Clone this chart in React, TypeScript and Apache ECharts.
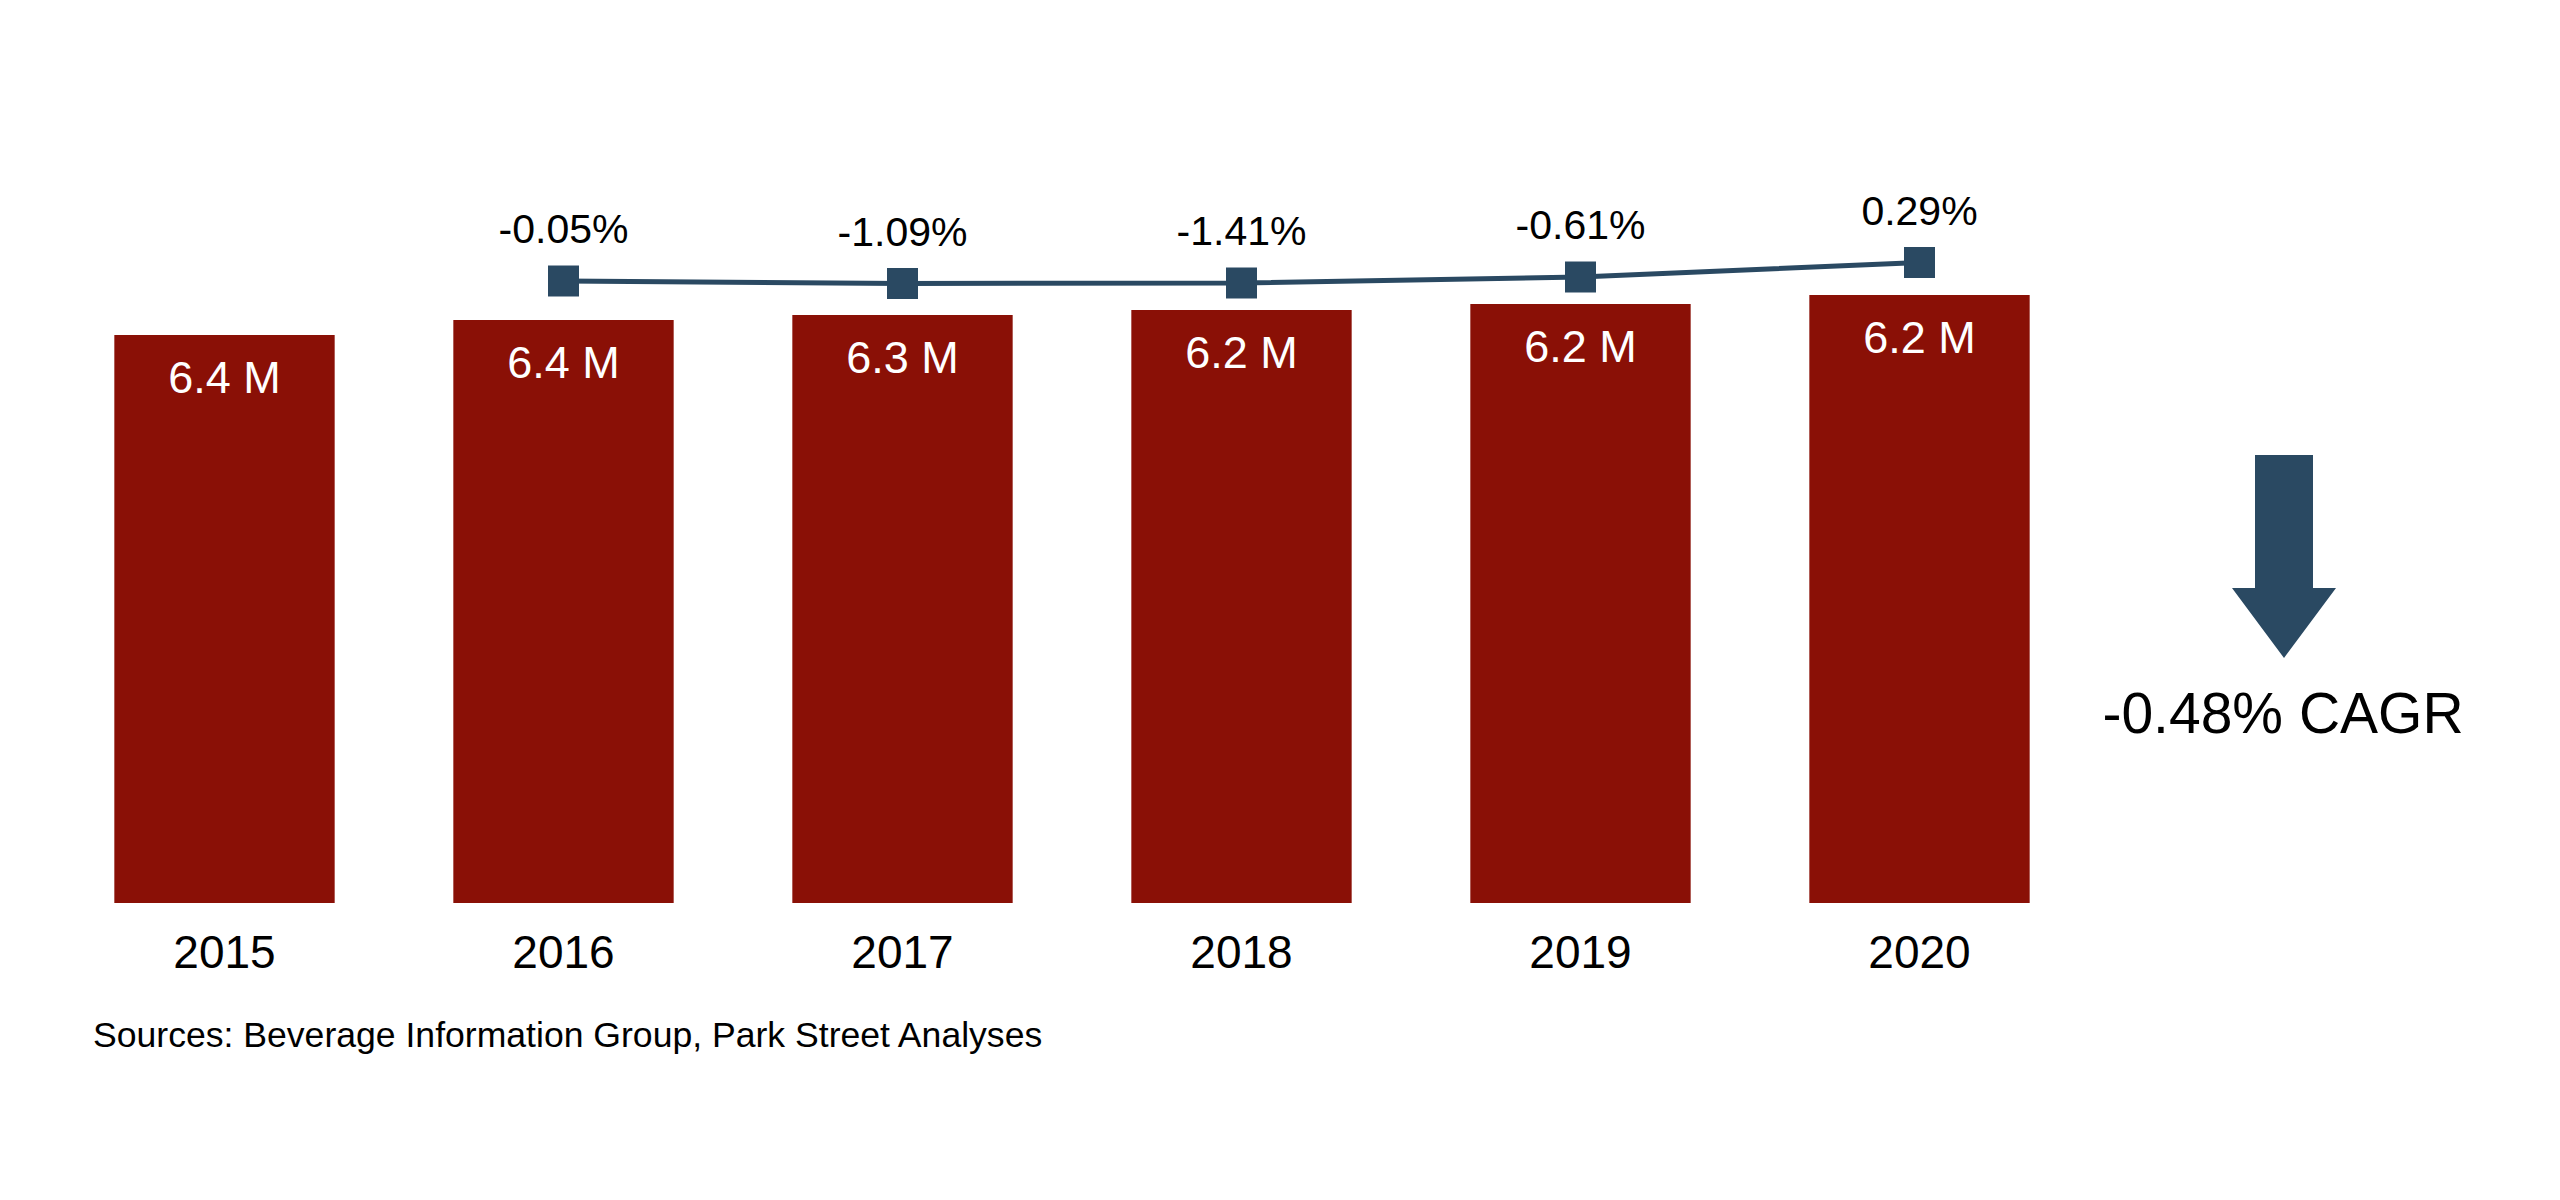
import React, { useEffect, useRef } from "react";
import * as echarts from "echarts";

// Categories (years)
const years = ["2015", "2016", "2017", "2018", "2019", "2020"];
// Bar heights as drawn in the picture (relative units on the value axis)
const barHeights = [5.68, 5.83, 5.88, 5.93, 5.99, 6.08];
// Bar labels as printed in the picture
const barLabels = ["6.4 M", "6.4 M", "6.3 M", "6.2 M", "6.2 M", "6.2 M"];
// Growth line marker levels as drawn (same value axis)
const lineLevels: (number | null)[] = [null, 6.22, 6.195, 6.2, 6.26, 6.405];
// Growth labels printed above the markers
const growthLabels = ["", "-0.05%", "-1.09%", "-1.41%", "-0.61%", "0.29%"];
const cagrText = "-0.48% CAGR";
const sourceText = "Sources: Beverage Information Group, Park Street Analyses";

const FONT = "'Liberation Sans', Arial, Helvetica, sans-serif";
const BAR_COLOR = "#8A1006";
const LINE_COLOR = "#2A4962";

export default function App() {
  const ref = useRef<HTMLDivElement>(null);
  useEffect(() => {
    if (!ref.current) return;
    const chart = echarts.init(ref.current, undefined, { renderer: "svg" });
    chart.setOption({
      animation: false,
      backgroundColor: "#ffffff",
      grid: { left: 55, right: 471, top: 203, bottom: 297, containLabel: false },
      xAxis: {
        type: "category",
        data: years,
        axisLine: { show: false },
        axisTick: { show: false },
        axisLabel: {
          color: "#000000",
          fontSize: 46,
          fontFamily: FONT,
          margin: 26,
        },
      },
      yAxis: {
        type: "value",
        min: 0,
        max: 7,
        show: false,
        splitLine: { show: false },
      },
      series: [
        {
          type: "bar",
          data: barHeights,
          barCategoryGap: "35%",
          itemStyle: { color: BAR_COLOR },
          label: {
            show: true,
            position: "insideTop",
            distance: 20,
            color: "#ffffff",
            fontSize: 45,
            fontFamily: FONT,
            formatter: (p: any) => barLabels[p.dataIndex],
          },
        },
        {
          type: "line",
          data: lineLevels,
          symbol: "rect",
          symbolSize: 31,
          lineStyle: { color: LINE_COLOR, width: 5 },
          itemStyle: { color: LINE_COLOR },
          label: {
            show: true,
            position: "top",
            distance: 16,
            color: "#000000",
            fontSize: 41,
            fontFamily: FONT,
            formatter: (p: any) => growthLabels[p.dataIndex],
          },
          z: 5,
        },
      ],
      graphic: [
        {
          type: "polygon",
          shape: {
            points: [
              [2255, 455],
              [2313, 455],
              [2313, 588],
              [2336, 588],
              [2284, 658],
              [2232, 588],
              [2255, 588],
            ],
          },
          style: { fill: LINE_COLOR },
        },
        {
          type: "text",
          x: 2283,
          y: 713,
          style: {
            text: cagrText,
            fontSize: 57,
            fontFamily: FONT,
            fill: "#000000",
            textAlign: "center",
            textVerticalAlign: "middle",
          },
        },
        {
          type: "text",
          x: 93,
          y: 1035,
          style: {
            text: sourceText,
            fontSize: 35.6,
            fontFamily: FONT,
            fill: "#000000",
            textAlign: "left",
            textVerticalAlign: "middle",
          },
        },
      ],
    });
    return () => chart.dispose();
  }, []);
  return (
    <div
      ref={ref}
      style={{ position: "fixed", left: 0, top: 0, width: 2560, height: 1200, background: "#fff" }}
    />
  );
}
